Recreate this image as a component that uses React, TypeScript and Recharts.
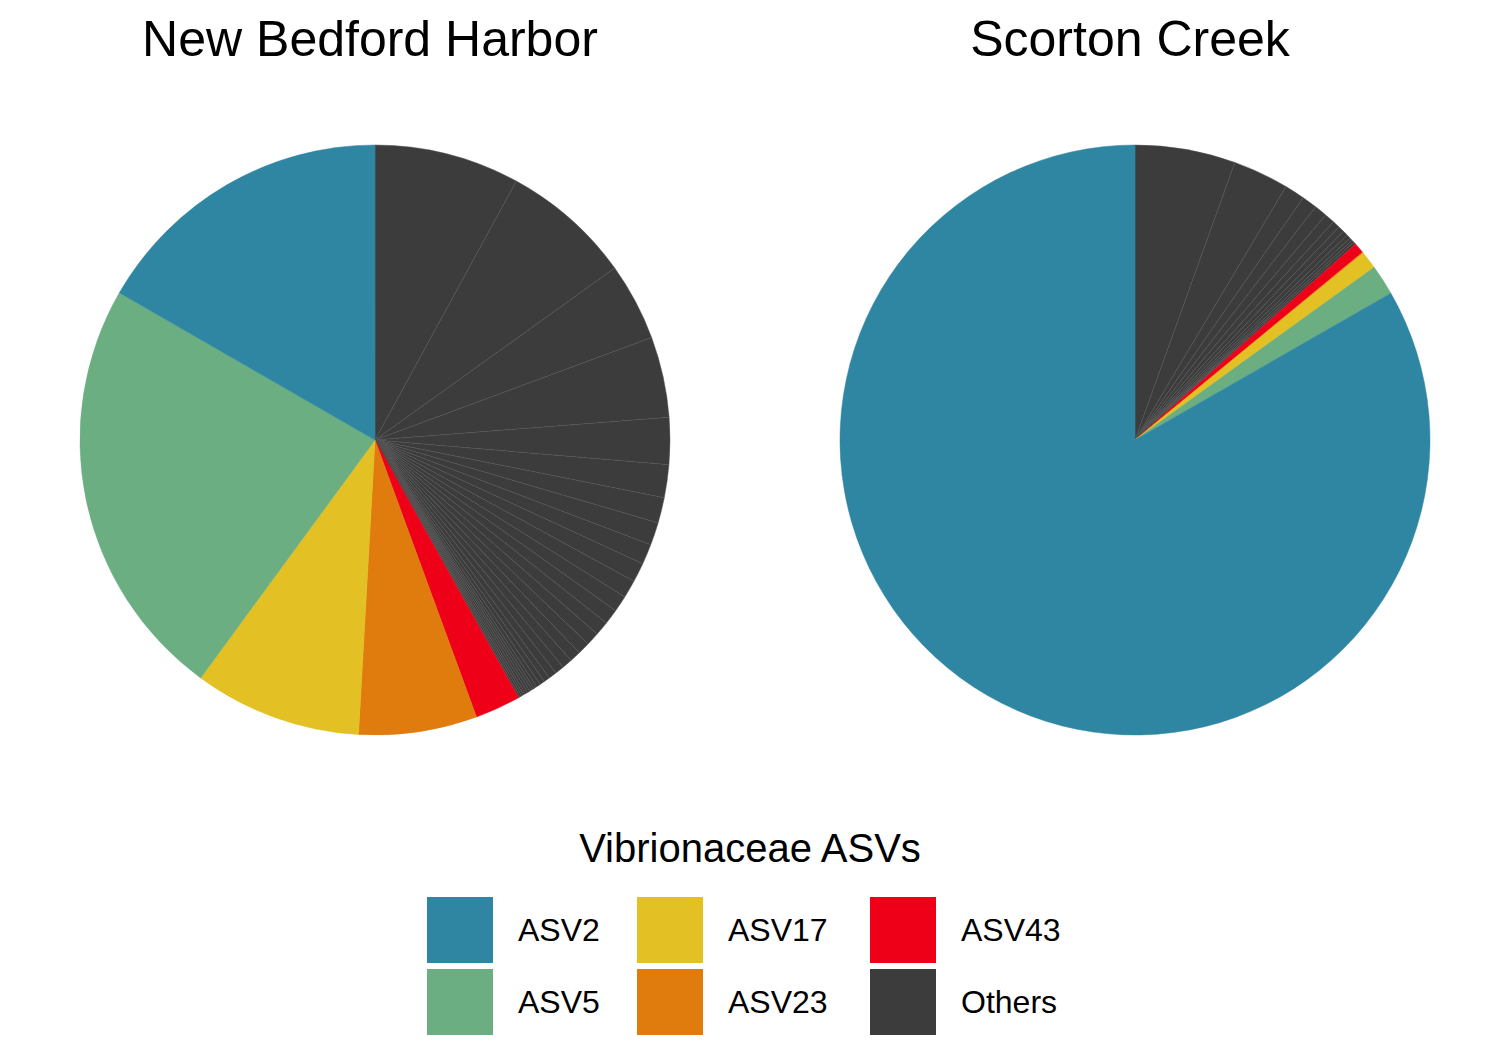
import React from "react";
import { PieChart, Pie, Cell } from "recharts";

const COLORS: Record<string, string> = {
  ASV2: "#2E86A2",
  ASV5: "#6AAE81",
  ASV17: "#E3C023",
  ASV23: "#E07B0E",
  ASV43: "#EE0018",
  Others: "#3C3C3C",
};

const nbhOthers = [28.6, 25.7, 15.3, 15.9, 9.2, 6.5, 5, 4.5, 4, 3.8, 3.5, 3.2, 3, 2.8, 2.6, 2.4, 2.2, 2, 1.8, 1.6, 1.2, 1, 0.8, 0.6, 0.5, 0.5, 0.5, 0.5, 0.4, 0.4, 0.4, 0.3];
const nbhMain = [
  { name: "ASV43", value: 9 },
  { name: "ASV23", value: 23.3 },
  { name: "ASV17", value: 33 },
  { name: "ASV5", value: 83.6 },
  { name: "ASV2", value: 60 },
];
const scOthers = [19.8, 11, 4, 3, 2.5, 2, 1.5, 1.2, 1, 0.8, 0.6, 0.5, 0.5];
const scMain = [
  { name: "ASV43", value: 2.1 },
  { name: "ASV23", value: 0.2 },
  { name: "ASV17", value: 3.5 },
  { name: "ASV5", value: 6 },
  { name: "ASV2", value: 300 },
];
const legendItems = [["ASV2", "ASV5"], ["ASV17", "ASV23"], ["ASV43", "Others"]];

const build = (others: number[], main: { name: string; value: number }[]) => [
  ...others.map((v, i) => ({ name: "Others" + i, group: "Others", value: v })),
  ...main.map((m) => ({ name: m.name, group: m.name, value: m.value })),
];
const nbhData = build(nbhOthers, nbhMain);
const scData = build(scOthers, scMain);

const font = "'Liberation Sans', Arial, sans-serif";

export default function App() {
  const renderPie = (data: any[], cx: number) => (
    <Pie data={data} dataKey="value" cx={cx} cy={435} outerRadius={295} startAngle={90} endAngle={-270} isAnimationActive={false}>
      {data.map((d, i) => (
        <Cell key={i} fill={COLORS[d.group]} stroke={d.group === "Others" ? "#555" : COLORS[d.group]} strokeWidth={0.5} />
      ))}
    </Pie>
  );
  const cols = [427, 637, 870];
  return (
    <div style={{ position: "absolute", left: 0, top: 0, width: 1500, height: 1050, background: "#fff", fontFamily: font }}>
      <PieChart width={1500} height={1050}>
        {renderPie(nbhData, 370)}
        {renderPie(scData, 1130)}
      </PieChart>
      <div style={{ position: "absolute", left: 70, width: 600, top: 10, textAlign: "center", fontSize: 50 }}>New Bedford Harbor</div>
      <div style={{ position: "absolute", left: 830, width: 600, top: 10, textAlign: "center", fontSize: 50 }}>Scorton Creek</div>
      <div style={{ position: "absolute", left: 450, width: 600, top: 826, textAlign: "center", fontSize: 40 }}>Vibrionaceae ASVs</div>
      {legendItems.map((col, ci) =>
        col.map((name, ri) => (
          <React.Fragment key={name}>
            <div style={{ position: "absolute", left: cols[ci], top: 897 + ri * 72, width: 66, height: 66, background: COLORS[name] }} />
            <div style={{ position: "absolute", left: cols[ci] + 91, top: 910 + ri * 72, fontSize: 32, lineHeight: "40px" }}>{name}</div>
          </React.Fragment>
        ))
      )}
    </div>
  );
}
